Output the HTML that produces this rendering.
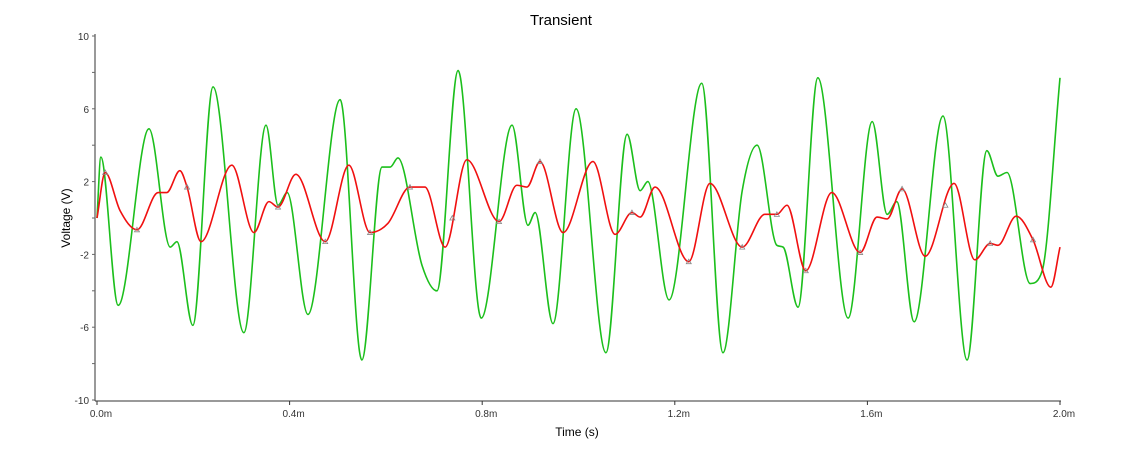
<!DOCTYPE html>
<html><head><meta charset="utf-8"><style>
body{margin:0;background:#fff;}
svg{display:block;font-family:"Liberation Sans",sans-serif;}
</style></head><body>
<svg id="chart" width="1122" height="468">
<text x="561" y="25" text-anchor="middle" font-size="15" fill="#000">Transient</text>
<text x="577" y="436" text-anchor="middle" font-size="12" fill="#000">Time (s)</text>
<text transform="translate(70,218) rotate(-90)" text-anchor="middle" font-size="12" fill="#000">Voltage (V)</text>
<g id="axes"></g>
<g id="series"></g>
</svg>
<script>
const xTicks=[0,0.4,0.8,1.2,1.6,2.0];
const xTickLabels=["0.0m","0.4m","0.8m","1.2m","1.6m","2.0m"];
const yTicks=[10,6,2,-2,-6,-10];
const greenT=[0,0.008,0.044,0.108,0.152,0.166,0.199,0.241,0.305,0.351,0.376,0.395,0.438,0.505,0.550,0.592,0.609,0.625,0.675,0.706,0.750,0.798,0.862,0.895,0.910,0.947,0.995,1.057,1.101,1.128,1.144,1.188,1.256,1.300,1.340,1.371,1.412,1.425,1.456,1.497,1.560,1.610,1.641,1.661,1.697,1.757,1.807,1.848,1.871,1.890,1.938,1.963,2.000];
const greenV=[0,3.35,-4.8,4.9,-1.6,-1.3,-5.9,7.2,-6.3,5.1,0.7,1.4,-5.3,6.5,-7.8,2.8,2.8,3.3,-2.6,-4.0,8.1,-5.5,5.1,-0.4,0.3,-5.8,6.0,-7.4,4.6,1.5,2.0,-4.5,7.4,-7.4,1.5,4.0,-1.5,-1.6,-4.9,7.7,-5.5,5.3,0.2,0.9,-5.7,5.6,-7.8,3.7,2.3,2.5,-3.6,-2.9,7.7];
const redT=[0,0.017,0.048,0.083,0.127,0.145,0.172,0.187,0.216,0.280,0.326,0.357,0.376,0.413,0.474,0.523,0.567,0.604,0.650,0.681,0.723,0.768,0.835,0.872,0.893,0.920,0.968,1.030,1.076,1.111,1.128,1.159,1.229,1.273,1.340,1.387,1.412,1.433,1.472,1.526,1.585,1.620,1.641,1.672,1.720,1.780,1.823,1.855,1.871,1.909,1.944,1.981,2.000];
const redV=[0,2.5,0.4,-0.65,1.4,1.4,2.6,1.7,-1.3,2.9,-0.8,0.9,0.6,2.4,-1.3,2.9,-0.8,-0.3,1.7,1.7,-1.6,3.2,-0.2,1.8,1.7,3.1,-0.8,3.1,-0.9,0.3,0.05,1.7,-2.4,1.9,-1.6,0.2,0.2,0.7,-2.9,1.4,-1.9,0.05,-0.05,1.6,-2.1,1.9,-2.3,-1.4,-1.5,0.1,-1.2,-3.8,-1.6];
const redMarkerT=[0.017,0.083,0.187,0.376,0.474,0.567,0.650,0.738,0.835,0.920,1.111,1.229,1.340,1.412,1.472,1.585,1.672,1.762,1.855,1.944];

const X0=97,X1=1060,Y0=218,YS=18.2;
const sx=t=>X0+(t/2)*(X1-X0);
const sy=v=>Y0-v*YS;
const NS="http://www.w3.org/2000/svg";
const axes=document.getElementById('axes'),series=document.getElementById('series');
function mk(tag,attrs,parent){const e=document.createElementNS(NS,tag);for(const k in attrs)e.setAttribute(k,attrs[k]);parent.appendChild(e);return e;}

const yAxis=mk('line',{x1:95,y1:34,x2:95,y2:401,stroke:'#333','stroke-width':1},axes);


const xAxis=mk('line',{x1:95,y1:401,x2:1061,y2:401,stroke:'#333','stroke-width':1},axes);


for(let v=-10;v<=10;v+=2){mk('line',{x1:92,y1:sy(v),x2:95,y2:sy(v),stroke:'#666'},axes);}
yTicks.forEach(v=>{
  const t=mk('text',{x:89,y:sy(v)+4,'text-anchor':'end','font-size':10,fill:'#333'},axes);
  t.textContent=String(v);
  
  
});
xTicks.forEach((v,i)=>{
  mk('line',{x1:sx(v),y1:401,x2:sx(v),y2:405,stroke:'#333'},axes);
  const t=mk('text',{x:sx(v)+4,y:417,'text-anchor':'middle','font-size':10,fill:'#333'},axes);
  t.textContent=xTickLabels[i];
  
  
});
function pathFrom(T,V){
  const p=T.map((t,i)=>[sx(t),sy(V[i])]);
  const n=p.length,d=[],m=new Array(n);
  for(let i=0;i<n-1;i++)d.push((p[i+1][1]-p[i][1])/(p[i+1][0]-p[i][0]));
  m[0]=d[0];m[n-1]=d[n-2];
  for(let i=1;i<n-1;i++){m[i]=(d[i-1]*d[i]<=0)?0:(d[i-1]+d[i])/2;}
  for(let i=0;i<n-1;i++){
    if(d[i]===0){m[i]=0;m[i+1]=0;continue;}
    const a=m[i]/d[i],b=m[i+1]/d[i],s=a*a+b*b;
    if(s>9){const tt=3/Math.sqrt(s);m[i]=tt*a*d[i];m[i+1]=tt*b*d[i];}
  }
  let s=`M${p[0][0]},${p[0][1]}`;
  for(let i=0;i<n-1;i++){
    const h=(p[i+1][0]-p[i][0])/3;
    s+=` C${p[i][0]+h},${p[i][1]+m[i]*h} ${p[i+1][0]-h},${p[i+1][1]-m[i+1]*h} ${p[i+1][0]},${p[i+1][1]}`;
  }
  return s;
}
const g=mk('path',{d:pathFrom(greenT,greenV),fill:'none',stroke:'#1cbf1c','stroke-width':1.6},series);


const r=mk('path',{d:pathFrom(redT,redV),fill:'none',stroke:'#f01010','stroke-width':1.6},series);


function interp(T,V,t){for(let i=0;i<T.length-1;i++){if(t>=T[i]&&t<=T[i+1]){const f=(t-T[i])/(T[i+1]-T[i]);return V[i]+f*(V[i+1]-V[i]);}}return V[V.length-1];}
redMarkerT.forEach(t=>{
  const x=sx(t),y=sy(interp(redT,redV,t));
  const mm=mk('path',{d:`M${x-2.5},${y+2} L${x+2.5},${y+2} L${x},${y-2.5} Z`,fill:'none',stroke:'#888','stroke-width':0.8},series);
  
  
});
</script>
</body></html>
